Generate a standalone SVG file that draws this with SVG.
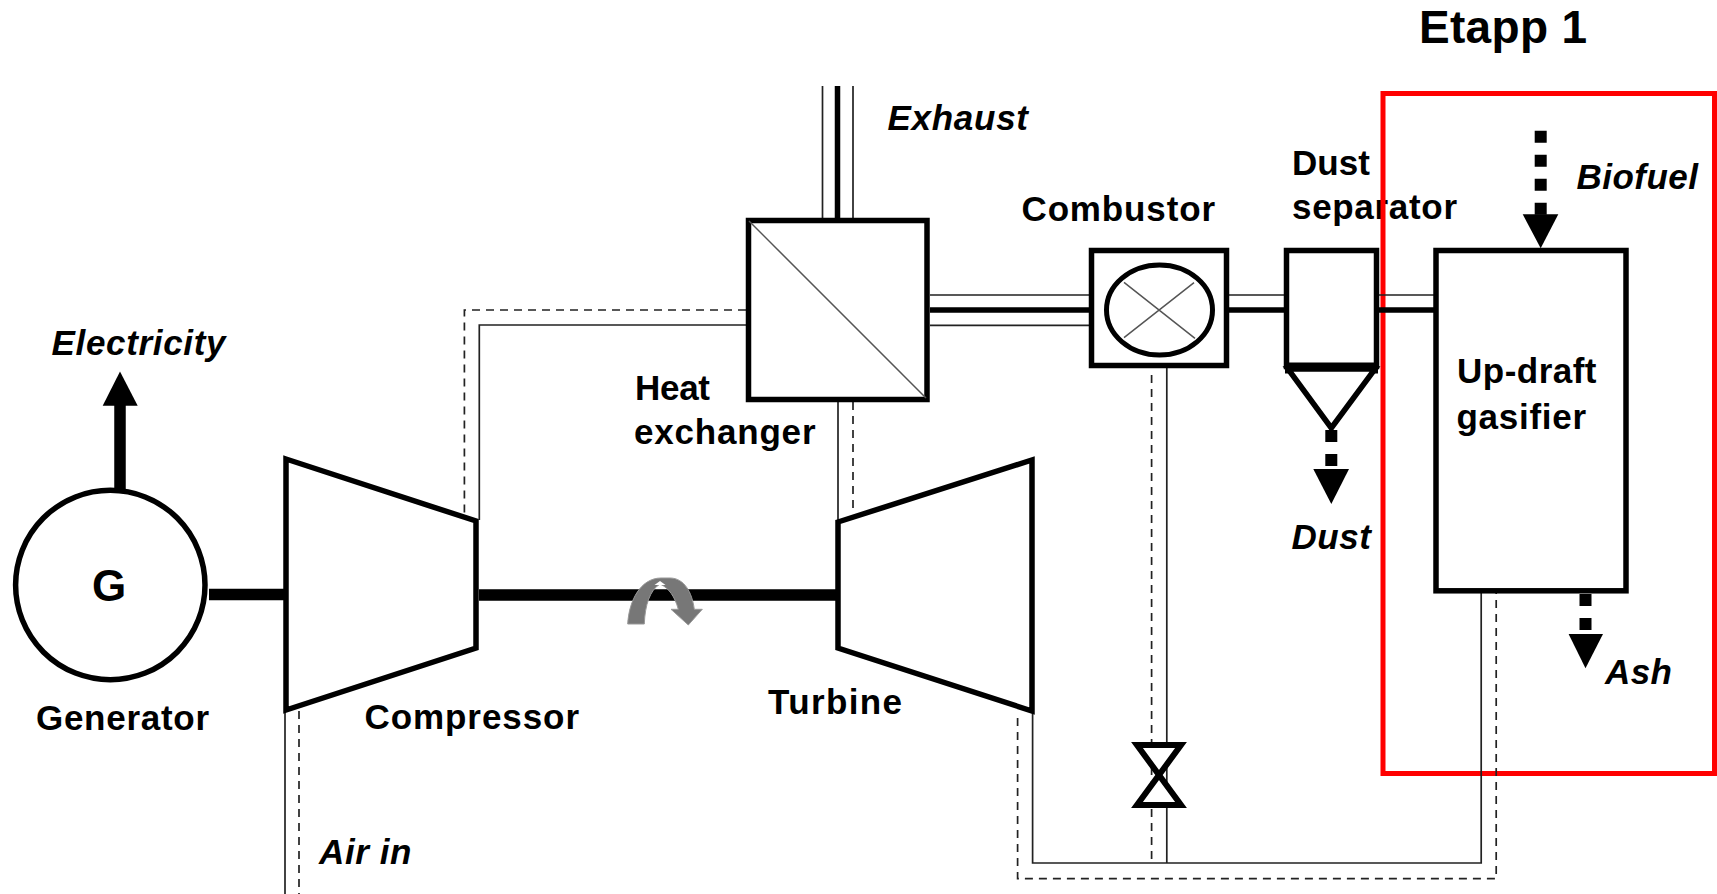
<svg xmlns="http://www.w3.org/2000/svg" width="1717" height="894" viewBox="0 0 1717 894">
<style>
text{font-family:"Liberation Sans",Arial,sans-serif;font-weight:700;font-size:35px;fill:#000}
.i{font-style:italic}
.b{fill:#fff;stroke:#000;stroke-width:5.500}
.thin{fill:none;stroke:#222;stroke-width:1.700}
.dash{fill:none;stroke:#222;stroke-width:1.700;stroke-dasharray:8 6}
.thick{fill:none;stroke:#000;stroke-width:5.500}
.shaft{fill:none;stroke:#000;stroke-width:11.500}
.drop{fill:none;stroke:#000;stroke-width:12;stroke-dasharray:12 12}
.hair{fill:none;stroke:#555;stroke-width:1.500}
</style>
<rect width="1717" height="894" fill="#fff"/>
<g id="dust-separator-label">
<text x="1292" y="174.500" textLength="78">Dust</text>
<text x="1292" y="219" textLength="165">separator</text>
</g>
<g id="etapp-1">
<rect x="1383" y="93.500" width="331.500" height="680" fill="none" stroke="#f00" stroke-width="5"/>
<text x="1419" y="43" textLength="168" style="font-size:46px">Etapp 1</text>
</g>
<g id="connectors">
<path class="thin" d="M822.500 86V218M853 86V218"/>
<path class="thick" d="M837.500 86V218"/>
<path class="thin" d="M930 295H1090M930 325.300H1090M1229 295H1285M1379 295H1434"/>
<path class="thick" d="M930 310H1090M1229 310H1285M1379 310H1434"/>
<path class="thin" d="M746 325H479.300V520"/>
<path class="dash" d="M746 310H464.400V513"/>
<path class="thin" d="M838 402V520"/>
<path class="dash" d="M853 402V512"/>
<path class="thin" d="M1166.800 367V863M1032.600 712V863H1481.200V592"/>
<path class="dash" d="M1151.600 375V863"/>
<path class="dash" d="M1017.600 718V878.700H1496.200V592"/>
<path class="thin" d="M285 710V894"/>
<path class="dash" d="M299 697V894"/>
<path class="shaft" d="M209 594.500H285M479 595H836M120 490V405"/>
<path d="M102.700 405.700L120 371.500L137.700 405.700Z"/>
<path class="drop" d="M1540.700 130.700V215"/>
<path d="M1522.700 214.300H1558.300L1540.700 248.300Z"/>
<path class="drop" d="M1331.300 430V467"/>
<path d="M1313.300 469H1349L1331.300 504Z"/>
<path class="drop" d="M1585.500 594V631"/>
<path d="M1568.600 634H1603L1585.500 668.300Z"/>
</g>
<g id="generator">
<circle class="b" cx="110.300" cy="585" r="94.700"/>
<text x="92" y="600.500" style="font-size:44px">G</text>
<text x="36" y="729.500" textLength="173">Generator</text>
</g>
<g id="electricity"><text class="i" x="51.500" y="354.500" textLength="174">Electricity</text></g>
<g id="compressor">
<polygon class="b" points="286,459 476,521 476,648 286,710"/>
<text x="364.500" y="729" textLength="214.500">Compressor</text>
</g>
<g id="air-in"><text class="i" x="319" y="863.500" textLength="92.500">Air in</text></g>
<g id="turbine">
<polygon class="b" points="838,522 1032,460 1032,711 838,648"/>
<text x="768" y="713.500" textLength="134">Turbine</text>
</g>
<g id="rotation">
<path fill="#777" stroke="#999" stroke-width="1" d="M627.700 624C629 600 641 578 661 578H670C684 578 692 592 694.300 609.300H702.300L688.300 625L671 609.300H678.300C675 597 669 588 660 584C650 590 645 605 644.300 624Z"/>
<path fill="#fff" d="M654.500 585L660 581L665.500 585Z"/>
</g>
<g id="heat-exchanger">
<rect class="b" x="748.500" y="220.500" width="178.500" height="179"/>
<path class="hair" d="M749 221L926 398"/>
<text x="635" y="400" textLength="75">Heat</text>
<text x="634" y="444" textLength="181.500">exchanger</text>
</g>
<g id="combustor">
<rect class="b" x="1091.500" y="250.500" width="135" height="115"/>
<ellipse cx="1159.500" cy="310" rx="53" ry="45" fill="#fff" stroke="#000" stroke-width="5"/>
<path class="hair" d="M1124 282.300L1195 338.300M1124 337.700L1194 282.700"/>
<text x="1021.500" y="220.500" textLength="193.500">Combustor</text>
</g>
<g id="dust-separator">
<rect class="b" x="1286.500" y="250.500" width="90" height="116"/>
<path class="thick" style="stroke-width:11" d="M1285 368H1378"/>
<polygon class="b" points="1288,369 1375,369 1331.300,428"/>
</g>
<g id="dust"><text class="i" x="1291.500" y="548.500" textLength="79.500">Dust</text></g>
<g id="gasifier">
<rect class="b" x="1436" y="250.500" width="190" height="340.300"/>
<text x="1457" y="383" textLength="139.500">Up-draft</text>
<text x="1456.500" y="428.500" textLength="129.500">gasifier</text>
</g>
<g id="valve">
<polygon class="b" style="stroke-width:6" points="1137,745 1181,745 1137,805 1181,805"/>
</g>
<g id="labels-italic">
<text class="i" x="887.500" y="129.500" textLength="140.500">Exhaust</text>
<text class="i" x="1576.500" y="188.500" textLength="121.500">Biofuel</text>
<text class="i" x="1605" y="683.500" textLength="67">Ash</text>
</g>
</svg>
